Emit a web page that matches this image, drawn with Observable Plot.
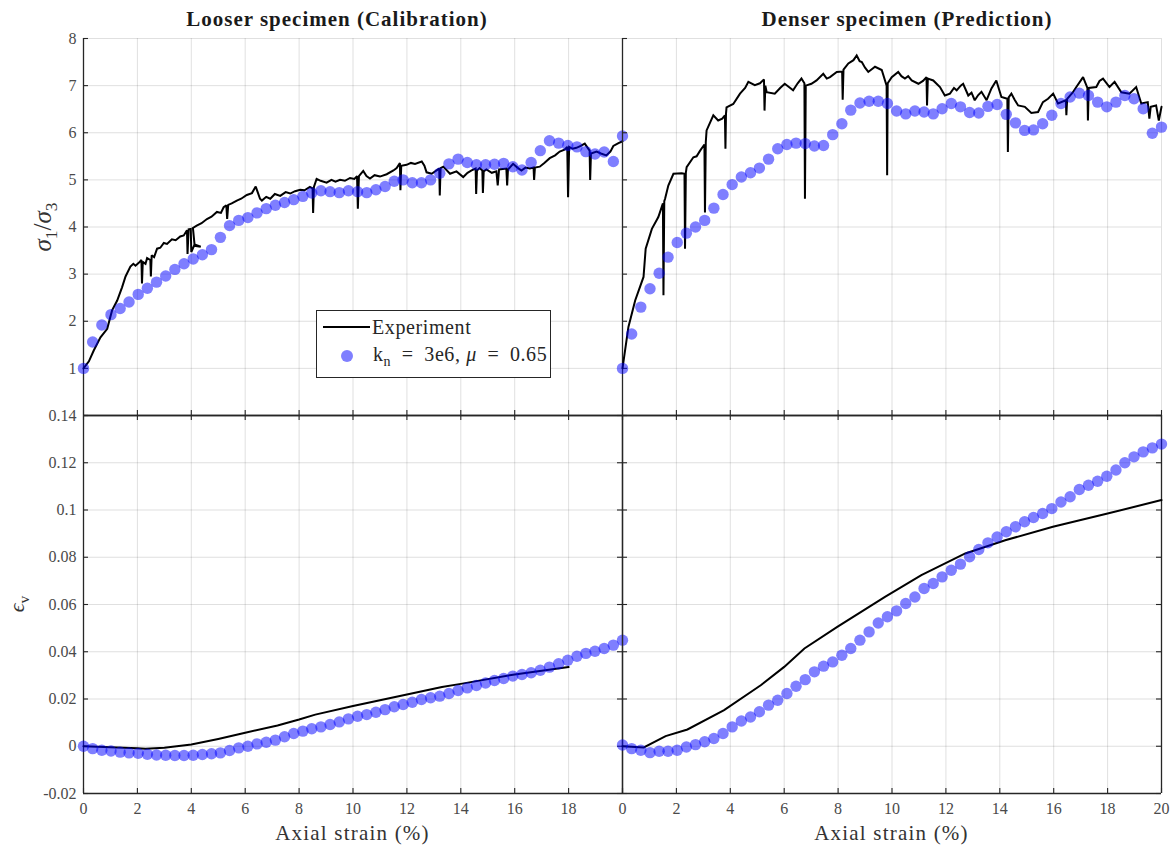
<!DOCTYPE html>
<html>
<head>
<meta charset="utf-8">
<script src="https://cdn.jsdelivr.net/npm/d3@7"></script>
<script src="https://cdn.jsdelivr.net/npm/@observablehq/plot@0.6"></script>
<style>
  html, body { margin: 0; padding: 0; background: #fff; }
  #figure { position: relative; width: 1174px; height: 851px; overflow: hidden; font-family: "Liberation Serif", "DejaVu Serif", serif; color: #262626; }
  #figure svg { position: absolute; left: 0; top: 0; }
  .txt { position: absolute; white-space: nowrap; transform: translate(-50%, -50%); line-height: 1; }
  .rot { transform: translate(-50%, -50%) rotate(-90deg); }
  .title { font-weight: bold; font-size: 21px; letter-spacing: 1px; color: #1a1a1a; }
  .xlab { font-size: 21px; letter-spacing: 1.2px; color: #333; }
  .ylab { font-size: 25px; color: #333; }
  .ylab2 { font-size: 22px; color: #333; }
  sub { font-size: 0.7em; vertical-align: -0.35em; }
  .legend { position: absolute; background: #fff; border: 1.3px solid #262626; box-sizing: border-box; }
  .legend .row { position: absolute; left: 0; display: flex; align-items: center; font-size: 20px; letter-spacing: 0.6px; color: #262626; white-space: nowrap; }
  .legend .swatch-line { width: 47px; height: 0; border-top: 2.2px solid #000; margin-left: 6px; margin-right: 2px; }
  .legend .swatch-dot { width: 12px; height: 12px; border-radius: 50%; background: rgba(0, 0, 255, 0.5); margin-left: 24px; margin-right: 20px; }
</style>
</head>
<body>
<div id="figure"></div>
<script>
// ---------------------------------------------------------------
// Data: axial strain (%) vs. principal stress ratio and volumetric strain
// ---------------------------------------------------------------

// DEM simulation output strains (60 evenly spaced records, %)
const simStrain = [0, 0.34, 0.68, 1.02, 1.36, 1.69, 2.03, 2.37, 2.71, 3.05, 3.39, 3.73, 4.07, 4.41, 4.75,
  5.08, 5.42, 5.76, 6.10, 6.44, 6.78, 7.12, 7.46, 7.80, 8.14, 8.47, 8.81, 9.15, 9.49, 9.83,
  10.17, 10.51, 10.85, 11.19, 11.53, 11.86, 12.20, 12.54, 12.88, 13.22, 13.56, 13.90, 14.24, 14.58, 14.92,
  15.25, 15.59, 15.93, 16.27, 16.61, 16.95, 17.29, 17.63, 17.97, 18.31, 18.64, 18.98, 19.32, 19.66, 20.0];

// Simulated stress ratio sigma1/sigma3
const looseSimRatio = [1.0, 1.56, 1.92, 2.14, 2.27, 2.41, 2.57, 2.70, 2.83, 2.96, 3.10, 3.22, 3.32, 3.41, 3.52,
  3.78, 4.03, 4.14, 4.20, 4.30, 4.39, 4.46, 4.52, 4.58, 4.65, 4.72, 4.77, 4.75, 4.73, 4.77,
  4.75, 4.73, 4.79, 4.86, 4.97, 5.00, 4.94, 4.94, 5.00, 5.14, 5.34, 5.44, 5.37, 5.32, 5.32,
  5.33, 5.35, 5.28, 5.21, 5.37, 5.62, 5.83, 5.78, 5.73, 5.70, 5.60, 5.55, 5.59, 5.39, 5.93];
const denseSimRatio = [1.0, 1.73, 2.30, 2.69, 3.02, 3.36, 3.67, 3.87, 4.00, 4.14, 4.40, 4.69, 4.90, 5.06, 5.15,
  5.25, 5.44, 5.66, 5.75, 5.78, 5.77, 5.72, 5.73, 5.96, 6.19, 6.48, 6.63, 6.67, 6.67, 6.62,
  6.46, 6.40, 6.46, 6.44, 6.40, 6.51, 6.62, 6.55, 6.43, 6.42, 6.56, 6.60, 6.39, 6.21, 6.05,
  6.06, 6.19, 6.37, 6.62, 6.76, 6.84, 6.79, 6.65, 6.55, 6.65, 6.79, 6.72, 6.51, 5.99, 6.12];

// Simulated volumetric strain
const looseSimVol = [0.0, -0.0010, -0.0017, -0.0020, -0.0025, -0.0028, -0.0030, -0.0034, -0.0037, -0.0038,
  -0.0039, -0.0039, -0.0038, -0.0035, -0.0032, -0.0028, -0.0018, -0.0007, 0.0, 0.0010,
  0.0017, 0.0026, 0.0040, 0.0054, 0.0064, 0.0074, 0.0082, 0.0092, 0.0103, 0.0116,
  0.0127, 0.0134, 0.0144, 0.0155, 0.0167, 0.0177, 0.0186, 0.0198, 0.0205, 0.0212,
  0.0223, 0.0236, 0.0247, 0.0257, 0.0268, 0.0278, 0.0287, 0.0297, 0.0304, 0.0311,
  0.0322, 0.0335, 0.0349, 0.0364, 0.0381, 0.0393, 0.0402, 0.0414, 0.0428, 0.0449];
const denseSimVol = [0.0005, -0.0010, -0.0017, -0.0027, -0.0021, -0.0021, -0.0017, -0.0003, 0.0007, 0.0019,
  0.0033, 0.0054, 0.0082, 0.0107, 0.0124, 0.0146, 0.0174, 0.0195, 0.0223, 0.0254,
  0.0282, 0.0315, 0.0339, 0.0357, 0.0385, 0.0414, 0.0449, 0.0484, 0.0522, 0.0548,
  0.0573, 0.0604, 0.0632, 0.0668, 0.0689, 0.0717, 0.0745, 0.0771, 0.0802, 0.0833,
  0.0861, 0.0886, 0.0908, 0.0929, 0.0950, 0.0968, 0.0985, 0.1006, 0.1034, 0.1056,
  0.1087, 0.1105, 0.1122, 0.1143, 0.1169, 0.1200, 0.1225, 0.1246, 0.1263, 0.1279];

// Laboratory triaxial records [axial strain %, value]; repeated strains are load-drop spikes
const looseExpRatio = [[0, 1.0], [0.2, 1.15], [0.38, 1.38], [0.63, 1.66], [0.88, 1.84], [1.06, 2.23], [1.25, 2.44],
  [1.43, 2.72], [1.56, 2.95], [1.74, 3.16], [1.85, 3.22], [1.93, 3.18], [2.05, 3.24], [2.15, 3.3], [2.17, 2.8],
  [2.2, 3.26], [2.3, 3.22], [2.36, 3.34], [2.48, 3.3], [2.5, 2.95], [2.53, 3.4], [2.62, 3.36], [2.73, 3.54],
  [2.85, 3.56], [2.98, 3.66], [3.1, 3.64], [3.28, 3.74], [3.42, 3.72], [3.59, 3.8], [3.72, 3.82], [3.84, 3.93],
  [3.86, 3.43], [3.9, 3.95], [3.98, 3.96], [4.0, 3.47], [4.1, 3.6], [4.35, 3.58], [4.12, 3.63], [4.06, 3.98],
  [4.2, 4.03], [4.38, 4.08], [4.58, 4.17], [4.75, 4.22], [4.95, 4.32], [5.1, 4.3], [5.2, 4.42], [5.3, 4.46],
  [5.33, 4.17], [5.37, 4.47], [5.5, 4.5], [5.69, 4.56], [5.85, 4.6], [6.06, 4.68], [6.25, 4.72], [6.39, 4.86],
  [6.45, 4.76], [6.55, 4.6], [6.62, 4.56], [6.78, 4.64], [6.93, 4.6], [7.1, 4.7], [7.3, 4.66], [7.5, 4.74],
  [7.67, 4.71], [7.85, 4.76], [8.04, 4.79], [8.2, 4.78], [8.4, 4.85], [8.5, 4.82], [8.52, 4.3], [8.55, 4.85],
  [8.65, 5.02], [8.8, 4.98], [9.02, 4.94], [9.2, 5.0], [9.35, 4.96], [9.52, 5.0], [9.7, 4.98], [9.89, 5.04],
  [10.05, 5.02], [10.15, 5.08], [10.18, 4.39], [10.22, 5.08], [10.38, 5.19], [10.5, 5.08], [10.63, 5.03],
  [10.8, 5.1], [11.0, 5.07], [11.25, 5.12], [11.5, 5.2], [11.62, 5.25], [11.74, 5.36], [11.76, 4.78],
  [11.79, 5.3], [11.99, 5.32], [12.15, 5.36], [12.3, 5.34], [12.55, 5.39], [12.65, 5.3], [12.73, 5.16],
  [12.92, 5.13], [13.1, 5.2], [13.2, 5.24], [13.22, 4.67], [13.25, 5.25], [13.35, 5.28], [13.6, 5.13],
  [13.84, 5.18], [14.09, 5.06], [14.25, 5.15], [14.4, 5.2], [14.55, 5.24], [14.57, 4.7], [14.6, 5.2],
  [14.7, 5.25], [14.8, 5.2], [14.82, 4.72], [14.85, 5.18], [14.95, 5.22], [15.15, 5.15], [15.32, 5.18],
  [15.37, 4.88], [15.42, 5.22], [15.69, 5.24], [15.72, 4.88], [15.75, 5.22], [15.94, 5.34], [16.1, 5.26],
  [16.25, 5.2], [16.4, 5.26], [16.56, 5.24], [16.7, 5.26], [16.72, 5.0], [16.75, 5.26], [16.93, 5.28],
  [17.1, 5.36], [17.3, 5.46], [17.5, 5.52], [17.67, 5.6], [17.85, 5.64], [17.95, 5.7], [17.98, 4.63],
  [18.02, 5.7], [18.15, 5.66], [18.29, 5.68], [18.45, 5.72], [18.6, 5.77], [18.78, 5.62], [18.8, 5.0],
  [18.83, 5.56], [19.04, 5.6], [19.2, 5.56], [19.4, 5.52], [19.55, 5.6], [19.66, 5.72], [19.85, 5.78], [20.0, 5.82]];

const denseExpRatio = [[0, 1.0], [0.22, 1.88], [0.47, 2.44], [0.78, 2.94], [0.86, 3.54], [1.09, 3.96], [1.33, 4.21],
  [1.5, 4.5], [1.52, 2.55], [1.55, 4.55], [1.58, 4.6], [1.7, 4.88], [1.89, 5.13], [2.2, 5.14], [2.3, 5.13],
  [2.32, 3.54], [2.35, 5.15], [2.38, 5.27], [2.63, 5.48], [2.75, 5.5], [2.88, 5.62], [3.04, 5.75], [3.06, 4.31],
  [3.09, 5.8], [3.12, 6.05], [3.37, 6.37], [3.55, 6.26], [3.7, 6.3], [3.8, 6.37], [3.82, 5.66], [3.84, 6.4],
  [3.86, 6.54], [4.11, 6.61], [4.36, 6.83], [4.55, 6.95], [4.67, 7.08], [4.91, 7.01], [5.1, 7.05],
  [5.25, 7.13], [5.27, 6.47], [5.3, 7.0], [5.35, 6.86], [5.65, 6.83], [5.85, 6.95], [6.02, 7.04], [6.2, 6.96],
  [6.33, 6.9], [6.5, 7.05], [6.64, 7.15], [6.75, 7.05], [6.77, 4.6], [6.8, 7.0], [7.01, 7.04], [7.2, 7.11],
  [7.45, 7.25], [7.58, 7.15], [7.7, 7.18], [7.95, 7.29], [8.15, 7.3], [8.17, 6.7], [8.2, 7.34], [8.38, 7.47],
  [8.57, 7.54], [8.69, 7.64], [8.8, 7.52], [8.88, 7.5], [9.0, 7.38], [9.12, 7.29], [9.37, 7.4], [9.62, 7.33],
  [9.8, 7.0], [9.82, 5.1], [9.84, 7.05], [9.99, 7.18], [10.23, 7.29], [10.35, 7.2], [10.48, 7.15],
  [10.6, 7.2], [10.73, 7.11], [10.98, 7.04], [11.15, 7.1], [11.28, 7.18], [11.3, 6.58], [11.33, 7.15],
  [11.53, 7.11], [11.78, 6.97], [11.96, 6.79], [12.15, 6.83], [12.3, 6.95], [12.4, 6.9], [12.55, 7.0],
  [12.64, 7.04], [12.83, 6.79], [12.95, 6.85], [13.07, 6.69], [13.2, 6.8], [13.32, 6.87], [13.51, 6.69],
  [13.69, 6.94], [13.87, 7.11], [14.06, 6.76], [14.28, 6.72], [14.3, 5.59], [14.33, 6.75], [14.43, 6.83],
  [14.55, 6.7], [14.68, 6.58], [14.93, 6.55], [15.17, 6.42], [15.42, 6.44], [15.6, 6.65], [15.79, 6.72],
  [15.98, 6.83], [16.16, 6.62], [16.45, 6.69], [16.47, 6.37], [16.5, 6.72], [16.7, 6.85], [16.84, 6.97],
  [17.09, 7.18], [17.25, 6.95], [17.27, 6.26], [17.3, 6.95], [17.58, 6.97], [17.7, 7.1], [17.83, 7.15],
  [18.07, 6.97], [18.26, 7.08], [18.51, 6.86], [18.81, 6.83], [19.06, 6.97], [19.25, 6.62], [19.49, 6.65],
  [19.55, 6.3], [19.6, 6.55], [19.8, 6.58], [19.9, 6.26], [20.0, 6.55]];

const looseExpVol = [[0, 0], [1.0, -0.0004], [2.0, -0.0008], [2.3, -0.0011], [3.0, -0.0006], [4.0, 0.0007],
  [5.0, 0.0031], [6.0, 0.0057], [7.2, 0.0088], [8.0, 0.0113], [8.6, 0.0134], [10.0, 0.0170], [12.0, 0.0219],
  [13.3, 0.0251], [14.0, 0.0264], [16.0, 0.0304], [18.0, 0.0335]];

const denseExpVol = [[0, 0], [0.79, -0.0005], [1.6, 0.0043], [2.41, 0.0071], [3.77, 0.0153], [5.13, 0.0258],
  [6.0, 0.0336], [6.75, 0.0414], [7.97, 0.0505], [9.74, 0.0632], [11.09, 0.0724], [12.72, 0.0816],
  [14.2, 0.0872], [15.97, 0.0929], [18.0, 0.0985], [20.0, 0.1042]];

// Axis ticks
const strainTicks = [0, 2, 4, 6, 8, 10, 12, 14, 16, 18, 20];
const strainLabelsLeft = [0, 2, 4, 6, 8, 10, 12, 14, 16, 18];
const ratioTicks = [0, 1, 2, 3, 4, 5, 6, 7, 8];
const ratioLabels = [1, 2, 3, 4, 5, 6, 7, 8];
const volTicks = [-0.02, 0, 0.02, 0.04, 0.06, 0.08, 0.1, 0.12, 0.14];

// ---------------------------------------------------------------
// Layout
// ---------------------------------------------------------------
const W = 1174, H = 851;
const AXIS = "#262626";
const colLeft = [83, 622], colRight = [622, 1161];
const rowTop = [38, 415], rowBottom = [415, 793];
const TICK = 5;

const simRows = (values) => simStrain.map((s, i) => ({strain: s, value: values[i]}));
const fmtVol = d => (d === 0 ? "0" : String(+d.toFixed(2)));

function panel({col, row, yDomain, yTicks, yLabels, yFormat, xLabels, box, exp, sim}) {
  const [x0, x1] = col, [y0, y1] = row;
  const pw = x1 - x0, ph = y1 - y0;
  const marks = [
    // grid
    Plot.ruleX(strainTicks, {stroke: AXIS, strokeOpacity: 0.14, strokeWidth: 1}),
    Plot.ruleY(yTicks, {stroke: AXIS, strokeOpacity: 0.14, strokeWidth: 1}),
    // inward ticks: left and bottom
    Plot.tickY(yTicks, {y: d => d, stroke: AXIS, strokeWidth: 1.1, insetRight: pw - TICK}),
    Plot.tickX(strainTicks, {x: d => d, stroke: AXIS, strokeWidth: 1.1, insetTop: ph - TICK})
  ];
  if (box) {
    marks.push(
      Plot.tickY(yTicks, {y: d => d, stroke: AXIS, strokeWidth: 1.1, insetLeft: pw - TICK}),
      Plot.tickX(strainTicks, {x: d => d, stroke: AXIS, strokeWidth: 1.1, insetBottom: ph - TICK}),
      Plot.ruleY([yDomain[1]], {stroke: AXIS, strokeWidth: 1.3}),
      Plot.ruleX([20], {stroke: AXIS, strokeWidth: 1.3})
    );
  }
  marks.push(
    Plot.ruleX([0], {stroke: AXIS, strokeWidth: 1.3}),
    Plot.ruleY([yDomain[0]], {stroke: AXIS, strokeWidth: 1.3}),
    Plot.line(exp, {x: d => d[0], y: d => d[1], stroke: "#000", strokeWidth: 2, strokeLinejoin: "miter", strokeMiterlimit: 2}),
    Plot.dot(sim, {x: "strain", y: "value", r: 5.7, fill: "#0000ff", fillOpacity: 0.5, stroke: "none"})
  );
  return Plot.plot({
    width: W,
    height: H,
    marginLeft: x0,
    marginRight: W - x1,
    marginTop: y0,
    marginBottom: H - y1,
    x: xLabels
      ? {domain: [0, 20], ticks: xLabels, tickSize: 0, tickPadding: 9, tickFormat: d => String(d), label: null}
      : {domain: [0, 20], axis: null},
    y: {domain: yDomain, ticks: yLabels, tickSize: 0, tickPadding: 7, tickFormat: yFormat, label: null},
    style: {
      background: "transparent",
      overflow: "visible",
      fontFamily: "'Liberation Serif', 'DejaVu Serif', serif",
      fontSize: "16px",
      color: "#4a4a4a"
    },
    marks
  });
}

const fig = document.getElementById("figure");

const panels = [
  panel({col: colLeft, row: rowTop, yDomain: [0, 8], yTicks: ratioTicks, yLabels: ratioLabels,
         yFormat: d => String(d), xLabels: null, box: false, exp: looseExpRatio, sim: simRows(looseSimRatio)}),
  panel({col: colLeft, row: rowBottom, yDomain: [-0.02, 0.14], yTicks: volTicks, yLabels: volTicks,
         yFormat: fmtVol, xLabels: strainLabelsLeft, box: true, exp: looseExpVol, sim: simRows(looseSimVol)}),
  panel({col: colRight, row: rowTop, yDomain: [0, 8], yTicks: ratioTicks, yLabels: [],
         yFormat: d => String(d), xLabels: null, box: false, exp: denseExpRatio, sim: simRows(denseSimRatio)}),
  panel({col: colRight, row: rowBottom, yDomain: [-0.02, 0.14], yTicks: volTicks, yLabels: [],
         yFormat: fmtVol, xLabels: strainTicks, box: true, exp: denseExpVol, sim: simRows(denseSimVol)})
];
panels.forEach(svg => fig.appendChild(svg));

// Titles, axis labels and legend
function addText(html, x, y, cls) {
  const el = document.createElement("div");
  el.className = "txt " + cls;
  el.style.left = x + "px";
  el.style.top = y + "px";
  el.innerHTML = html;
  fig.appendChild(el);
  return el;
}
addText("Looser specimen (Calibration)", 337, 19, "title");
addText("Denser specimen (Prediction)", 907, 19, "title");
addText("Axial strain (%)", 352.5, 833, "xlab");
addText("Axial strain (%)", 891.5, 833, "xlab");
addText("<i>σ</i><sub>1</sub>/<i>σ</i><sub>3</sub>", 45, 227, "ylab rot");
addText("<i>ϵ</i><sub>v</sub>", 19, 604, "ylab2 rot");

const legend = document.createElement("div");
legend.className = "legend";
Object.assign(legend.style, {left: "316px", top: "310px", width: "235px", height: "68px"});
legend.innerHTML =
  '<div class="row" style="top:5px;height:22px"><span class="swatch-line"></span><span>Experiment</span></div>' +
  '<div class="row" style="top:33px;height:24px"><span class="swatch-dot"></span><span>k<sub>n</sub>&ensp;=&ensp;3e6, <i>μ</i>&ensp;=&ensp;0.65</span></div>';
fig.appendChild(legend);
</script>
</body>
</html>
